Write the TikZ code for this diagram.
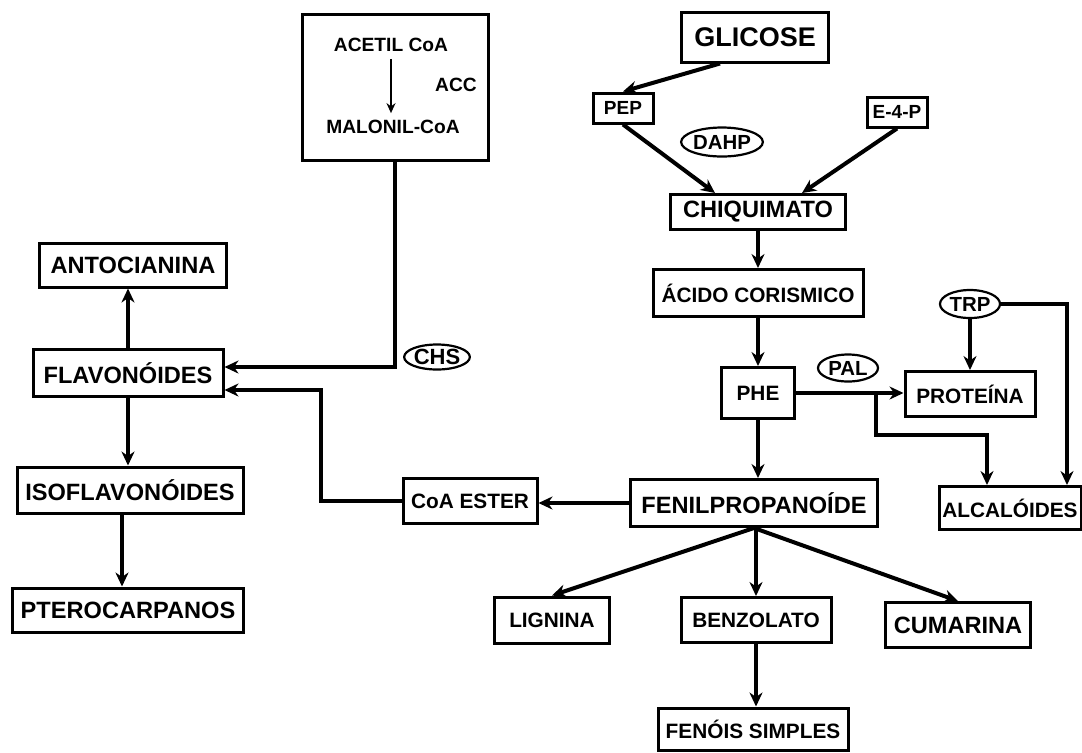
\documentclass[tikz,border=0pt]{standalone}
\usepackage{fontspec}
\setmainfont{Liberation Sans}
\usepackage{tikz}
\usetikzlibrary{arrows.meta, positioning, shapes.geometric, calc}
\tikzset{
    wh/.style 2 args={minimum width=#1*0.5pt, minimum height=#2*0.5pt},
    box/.style={draw, rectangle, line width=1.5pt, inner sep=0pt, font=\fontsize{11.8}{13}\selectfont\bfseries},
    bigbox/.style={box, font=\fontsize{13.5}{15}\selectfont\bfseries},
    midbox/.style={box, font=\fontsize{10.4}{12}\selectfont\bfseries},
    smallbox/.style={box, font=\fontsize{9.5}{11}\selectfont\bfseries},
    enzyme/.style={draw, ellipse, line width=1.1pt, inner sep=0pt, font=\fontsize{10.2}{12}\selectfont\bfseries},
    label text/.style={font=\fontsize{9.6}{11}\selectfont\bfseries},
    arr/.style={-{Stealth[length=7pt, width=6.5pt]}, line width=2pt},
    thinarr/.style={-{Stealth[length=5pt, width=4.5pt]}, line width=1pt},
}

\begin{document}
\begin{tikzpicture}[x=0.5pt, y=-0.5pt]
    \useasboundingbox (0,0) rectangle (1082,752);

    \node[box, wh={186}{146}] (acbox) at (395,87) {};
    \node[label text] (acetil) at (391,45) {ACETIL CoA};
    \node[label text] (acc) at (456,85) {ACC};
    \node[label text] (malonil) at (393,127) {MALONIL-CoA};
    \draw[thinarr] (acetil) -- (acetil |- malonil.north);

    \node[bigbox, wh={147}{50}] (glicose) at (755,37) {GLICOSE};
    \node[smallbox, wh={60}{30}] (pep) at (623,108) {PEP};
    \node[smallbox, wh={60}{30}] (e4p) at (897,112) {E-4-P};
    \node[enzyme, wh={76}{29}] (dahp) at (722,142) {DAHP};
    \node[box, wh={175}{35}] (chiq) at (758,212) {CHIQUIMATO};
    \node[midbox, wh={210}{47}] (acido) at (758,293) {ÁCIDO CORISMICO};
    \node[midbox, wh={73}{51}] (phe) at (758,393) {PHE};
    \node[enzyme, wh={60}{27}] (pal) at (848,368) {PAL};
    \node[enzyme, wh={60}{28}] (trp) at (970,304) {TRP};
    \node[midbox, wh={130}{45}] (prot) at (970,394) {PROTEÍNA};
    \node[midbox, wh={142}{43}] (alc) at (1010,508) {ALCALÓIDES};
    \node[box, wh={247}{47}] (fenil) at (754,503) {FENILPROPANOÍDE};
    \node[midbox, wh={134}{45}] (coa) at (470,501) {CoA ESTER};
    \node[midbox, wh={115}{46}] (lig) at (552,620) {LIGNINA};
    \node[midbox, wh={150}{45}] (benz) at (756,620) {BENZOLATO};
    \node[box, wh={145}{45}] (cum) at (958,625) {CUMARINA};
    \node[midbox, wh={190}{42}] (fenois) at (753,729) {FENÓIS SIMPLES};

    \node[box, wh={187}{44}] (anto) at (133,265) {ANTOCIANINA};
    \node[box, wh={190}{47}] (flav) at (128,373) {FLAVONÓIDES};
    \node[box, wh={226}{46}] (isof) at (130,490) {ISOFLAVONÓIDES};
    \node[box, wh={231}{44}] (ptero) at (128,610) {PTEROCARPANOS};
    \node[enzyme, wh={61}{25}, font=\fontsize{11}{13}\selectfont\bfseries] (chs) at (437,357) {CHS};

    \draw[arr] ([xshift=-17.5pt]glicose.south) -- (pep.north);
    \draw[arr] (pep.south) -- ([xshift=-21.5pt]chiq.north);
    \draw[arr] (e4p.south) -- ([xshift=22pt]chiq.north);
    \draw[arr] (chiq.south) -- (acido.north);
    \draw[arr] (acido.south) -- (phe.north);
    \draw[arr] (phe.south) -- (phe.south |- fenil.north);
    \draw[arr] (phe.east) -- (phe.east -| prot.west);
    \coordinate (br) at ($(phe.east)!0.745!(phe.east -| prot.west)$);
    \draw[arr] (br) -- ++(0,42) -| ([xshift=-11.5pt]alc.north);
    \draw[arr] (trp.south) -- (prot.north);
    \draw[arr] (trp.east) -| ([xshift=28.5pt]alc.north);

    \draw[arr] (fenil.west) -- (fenil.west -| coa.east);
    \draw[arr] (fenil.south) -- (lig.north);
    \draw[arr] (benz.north |- fenil.south) -- (benz.north);
    \draw[arr] (fenil.south) -- (cum.north);
    \draw[arr] (benz.south) -- (benz.south |- fenois.north);

    \draw[arr] (acbox.south) |- ([yshift=3pt]flav.east);
    \draw[arr] (coa.west) -- ++(-81,0) |- ([yshift=-8.5pt]flav.east);
    \draw[arr] (flav.north) -- (flav.north |- anto.south);
    \draw[arr] (flav.south) -- (flav.south |- isof.north);
    \draw[arr] ([xshift=-4pt]isof.south) -- ([xshift=-4pt]isof.south |- ptero.north);
\end{tikzpicture}
\end{document}
